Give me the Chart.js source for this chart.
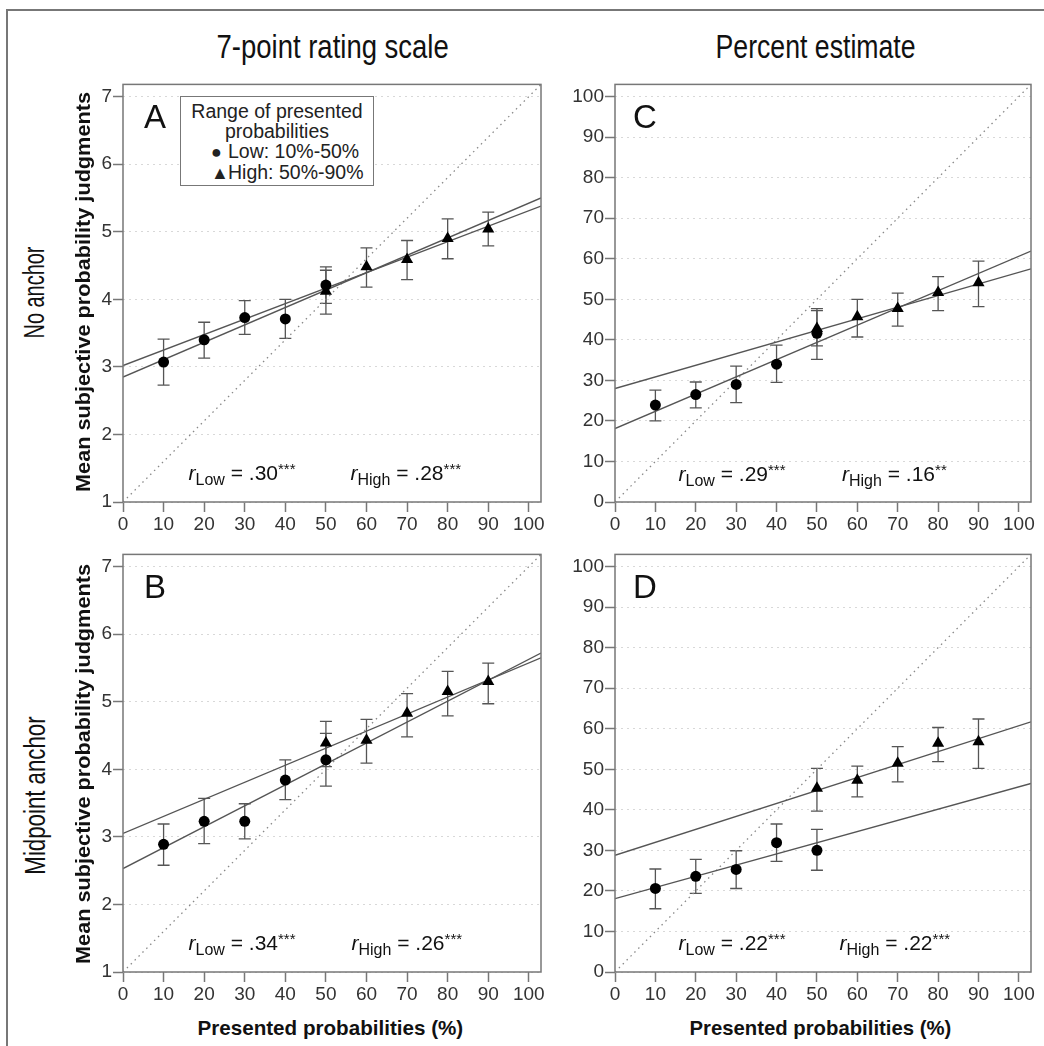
<!DOCTYPE html>
<html>
<head>
<meta charset="utf-8">
<script src="https://cdn.jsdelivr.net/npm/chart.js@4.4.1/dist/chart.umd.min.js"></script>
<style>
  html, body { margin: 0; padding: 0; background: #fff; }
  body { width: 1044px; height: 1046px; position: relative; overflow: hidden; font-family: 'Liberation Sans', Arial, sans-serif; color: #111; }
  .frame { position: absolute; left: 6px; top: 9px; width: 1200px; height: 1200px; border-left: 2px solid #777; border-top: 2px solid #777; }
  canvas.panel { position: absolute; }
  .lbl { position: absolute; white-space: nowrap; line-height: 1; transform-origin: center center; }
  .legend { position: absolute; left: 180px; top: 96px; width: 192px; height: 88px; border: 1.5px solid #777; background: #fff; font-size: 19.5px; text-align: center; line-height: 20px; color: #222; }
  .legend .head { margin-top: 4px; }
  .legend .row { text-align: left; padding-left: 30px; }
  .legend .sym { display: inline-block; width: 17px; font-size: 18px; }
  .ann sub { font-size: 16px; vertical-align: -5px; }
  .ann sup { font-size: 15px; vertical-align: 6px; }
</style>
</head>
<body>
<div class="frame"></div>
<canvas id="panelA" class="panel"></canvas>
<canvas id="panelB" class="panel"></canvas>
<canvas id="panelC" class="panel"></canvas>
<canvas id="panelD" class="panel"></canvas>
<div class="legend">
  <div class="head">Range of presented<br>probabilities</div>
  <div class="row"><span class="sym">&#9679;</span>Low: 10%-50%</div>
  <div class="row"><span class="sym">&#9650;</span>High: 50%-90%</div>
</div>
<script>
// presented probabilities (x) for the two ranges
const xLow = [10, 20, 30, 40, 50];
const xHigh = [50, 60, 70, 80, 90];
const fitEnds = [0, 103];
const xTicks = [0, 10, 20, 30, 40, 50, 60, 70, 80, 90, 100];
const ratingTicks = [1, 2, 3, 4, 5, 6, 7];
const percentTicks = [0, 10, 20, 30, 40, 50, 60, 70, 80, 90, 100];
const ratingDiag = [1, 7.18];
const percentDiag = [0, 103];

// A: 7-point scale, no anchor
const aLow = [3.07, 3.40, 3.73, 3.71, 4.21];
const aLowUp = [3.41, 3.66, 3.98, 4.00, 4.48];
const aLowDn = [2.73, 3.13, 3.48, 3.42, 3.94];
const aHigh = [4.12, 4.48, 4.59, 4.90, 5.04];
const aHighUp = [4.43, 4.76, 4.87, 5.19, 5.29];
const aHighDn = [3.78, 4.18, 4.29, 4.60, 4.79];
const aLowFit = [2.85, 5.50];
const aHighFit = [3.02, 5.38];

// B: 7-point scale, midpoint anchor
const bLow = [2.89, 3.23, 3.23, 3.84, 4.14];
const bLowUp = [3.19, 3.57, 3.49, 4.14, 4.53];
const bLowDn = [2.58, 2.90, 2.97, 3.55, 3.75];
const bHigh = [4.39, 4.43, 4.83, 5.15, 5.30];
const bHighUp = [4.71, 4.74, 5.12, 5.45, 5.57];
const bHighDn = [4.04, 4.09, 4.48, 4.79, 4.97];
const bLowFit = [2.53, 5.72];
const bHighFit = [3.05, 5.65];

// C: percent estimate, no anchor
const cLow = [23.9, 26.5, 29.0, 34.0, 41.6];
const cLowUp = [27.6, 29.6, 33.5, 38.7, 47.7];
const cLowDn = [20.0, 23.2, 24.5, 29.5, 35.2];
const cHigh = [42.8, 45.7, 47.7, 51.7, 54.1];
const cHighUp = [47.2, 50.0, 51.5, 55.6, 59.4];
const cHighDn = [38.5, 40.7, 43.4, 47.2, 48.2];
const cLowFit = [18.1, 61.9];
const cHighFit = [28.0, 57.5];

// D: percent estimate, midpoint anchor
const dLow = [20.6, 23.6, 25.3, 31.9, 30.0];
const dLowUp = [25.4, 27.8, 29.9, 36.5, 35.2];
const dLowDn = [15.6, 19.4, 20.6, 27.3, 25.1];
const dHigh = [45.3, 47.3, 51.5, 56.4, 56.8];
const dHighUp = [50.2, 50.8, 55.6, 60.3, 62.4];
const dHighDn = [39.7, 43.2, 46.9, 51.9, 50.2];
const dLowFit = [18.1, 46.5];
const dHighFit = [28.8, 61.7];

const rLabels = {
  A: ['.30', '***', '.28', '***'],
  B: ['.34', '***', '.26', '***'],
  C: ['.29', '***', '.16', '**'],
  D: ['.22', '***', '.22', '***']
};

const PAD_L = 60, PAD_T = 12, PAD_R = 12, PAD_B = 40;

const errorBars = {
  id: 'errorBars',
  beforeDatasetsDraw(chart) {
    const ctx = chart.ctx;
    const xs = chart.scales.x, ys = chart.scales.y;
    ctx.save();
    ctx.strokeStyle = '#555';
    ctx.lineWidth = 1.3;
    chart.data.datasets.forEach(ds => {
      if (!ds.errUp) return;
      ds.data.forEach((p, i) => {
        const x = xs.getPixelForValue(p.x);
        const y1 = ys.getPixelForValue(ds.errUp[i]);
        const y2 = ys.getPixelForValue(ds.errDn[i]);
        ctx.beginPath();
        ctx.moveTo(x, y1); ctx.lineTo(x, y2);
        ctx.moveTo(x - 6, y1); ctx.lineTo(x + 6, y1);
        ctx.moveTo(x - 6, y2); ctx.lineTo(x + 6, y2);
        ctx.stroke();
      });
    });
    ctx.restore();
  }
};

const frameBox = {
  id: 'frameBox',
  afterDraw(chart) {
    const a = chart.chartArea, ctx = chart.ctx;
    ctx.save();
    ctx.strokeStyle = '#777';
    ctx.lineWidth = 1.5;
    ctx.strokeRect(a.left, a.top, a.right - a.left, a.bottom - a.top);
    ctx.restore();
  }
};

function pts(xs, ys) {
  return xs.map((x, i) => ({ x: x, y: ys[i] }));
}

function makePanel(id, area, yMin, yMax, yTicks, diag, low, lowUp, lowDn, high, highUp, highDn, lowFit, highFit) {
  const canvas = document.getElementById(id);
  const w = area.r - area.l + PAD_L + PAD_R;
  const h = area.b - area.t + PAD_T + PAD_B;
  canvas.width = w; canvas.height = h;
  canvas.style.left = (area.l - PAD_L) + 'px';
  canvas.style.top = (area.t - PAD_T) + 'px';

  const tickFont = { family: "'Liberation Sans', Arial, sans-serif", size: 19 };

  new Chart(canvas, {
    type: 'scatter',
    data: {
      datasets: [
        { data: pts(xLow, low), errUp: lowUp, errDn: lowDn, pointStyle: 'circle', pointRadius: 5.5, backgroundColor: '#000', borderColor: '#000', borderWidth: 0 },
        { data: pts(xHigh, high), errUp: highUp, errDn: highDn, pointStyle: 'triangle', pointRadius: 7, backgroundColor: '#000', borderColor: '#000', borderWidth: 0 },
        { data: pts(fitEnds, lowFit), showLine: true, pointRadius: 0, borderColor: '#555', borderWidth: 1.4 },
        { data: pts(fitEnds, highFit), showLine: true, pointRadius: 0, borderColor: '#555', borderWidth: 1.4 },
        { data: pts(fitEnds, diag), showLine: true, pointRadius: 0, borderColor: '#888', borderWidth: 1.3, borderDash: [1.5, 4] }
      ]
    },
    options: {
      responsive: false,
      animation: false,
      events: [],
      layout: { padding: { left: 0, top: PAD_T, right: PAD_R, bottom: 0 } },
      plugins: { legend: { display: false }, tooltip: { enabled: false } },
      scales: {
        x: {
          type: 'linear', min: 0, max: 103,
          afterBuildTicks: axis => { axis.ticks = xTicks.map(v => ({ value: v })); },
          afterFit: axis => { axis.height = PAD_B; },
          grid: { display: true, drawOnChartArea: false, drawTicks: true, tickLength: 10, tickColor: '#777', tickWidth: 1.5 },
          border: { display: false },
          ticks: { font: tickFont, color: '#333', padding: 1, maxRotation: 0, autoSkip: false }
        },
        y: {
          type: 'linear', min: yMin, max: yMax,
          afterBuildTicks: axis => { axis.ticks = yTicks.map(v => ({ value: v })); },
          afterFit: axis => { axis.width = PAD_L; },
          grid: { display: true, drawOnChartArea: true, color: '#d8d8d8', lineWidth: 1, drawTicks: true, tickLength: 10, tickColor: '#777', tickWidth: 1.5 },
          border: { display: false, dash: [2, 4] },
          ticks: { font: tickFont, color: '#333', padding: 1, autoSkip: false }
        }
      }
    },
    plugins: [errorBars, frameBox]
  });
}

makePanel('panelA', { l: 123, t: 84, r: 541, b: 502 }, 1, 7.18, ratingTicks, ratingDiag,
  aLow, aLowUp, aLowDn, aHigh, aHighUp, aHighDn, aLowFit, aHighFit);
makePanel('panelB', { l: 123, t: 554, r: 541, b: 972 }, 1, 7.18, ratingTicks, ratingDiag,
  bLow, bLowUp, bLowDn, bHigh, bHighUp, bHighDn, bLowFit, bHighFit);
makePanel('panelC', { l: 615, t: 84, r: 1031, b: 502 }, 0, 103, percentTicks, percentDiag,
  cLow, cLowUp, cLowDn, cHigh, cHighUp, cHighDn, cLowFit, cHighFit);
makePanel('panelD', { l: 615, t: 554, r: 1031, b: 972 }, 0, 103, percentTicks, percentDiag,
  dLow, dLowUp, dLowDn, dHigh, dHighUp, dHighDn, dLowFit, dHighFit);

// text placed by centre, optionally rotated and stretched to a given length
function label(html, cx, cy, css, len, rotate) {
  const el = document.createElement('div');
  el.className = 'lbl';
  el.innerHTML = html;
  Object.assign(el.style, css);
  document.body.appendChild(el);
  const nw = el.offsetWidth, nh = el.offsetHeight;
  el.style.left = (cx - nw / 2) + 'px';
  el.style.top = (cy - nh / 2) + 'px';
  const s = len ? len / nw : 1;
  el.style.transform = (rotate ? 'rotate(-90deg) ' : '') + 'scaleX(' + s + ')';
  return el;
}

label('7-point rating scale', 332, 46, { fontSize: '34px' }, 232);
label('Percent estimate', 815, 46, { fontSize: '34px' }, 200);
label('No anchor', 35, 292, { fontSize: '29px' }, 92, true);
label('Midpoint anchor', 35, 795, { fontSize: '29px' }, 158, true);
label('Mean subjective probability judgments', 83, 292, { fontSize: '20px', fontWeight: 'bold' }, 400, true);
label('Mean subjective probability judgments', 83, 764, { fontSize: '20px', fontWeight: 'bold' }, 400, true);
label('Presented probabilities (%)', 330, 1027, { fontSize: '21px', fontWeight: 'bold' }, 266);
label('Presented probabilities (%)', 820, 1027, { fontSize: '21px', fontWeight: 'bold' }, 262);
label('A', 155, 116, { fontSize: '33px' });
label('B', 155, 586, { fontSize: '33px' });
label('C', 645, 116, { fontSize: '33px' });
label('D', 645, 586, { fontSize: '33px' });

function rText(sub, val, stars) {
  return '<i>r</i><sub>' + sub + '</sub> = ' + val + '<sup>' + stars + '</sup>';
}
const annPos = { A: [245, 409, 476], B: [245, 410, 946], C: [735, 897, 477], D: [735, 898, 946] };
Object.keys(annPos).forEach(k => {
  const p = annPos[k], r = rLabels[k];
  label(rText('Low', r[0], r[1]), p[0], p[2], { fontSize: '21px' }).classList.add('ann');
  label(rText('High', r[2], r[3]), p[1], p[2], { fontSize: '21px' }).classList.add('ann');
});
</script>
</body>
</html>
